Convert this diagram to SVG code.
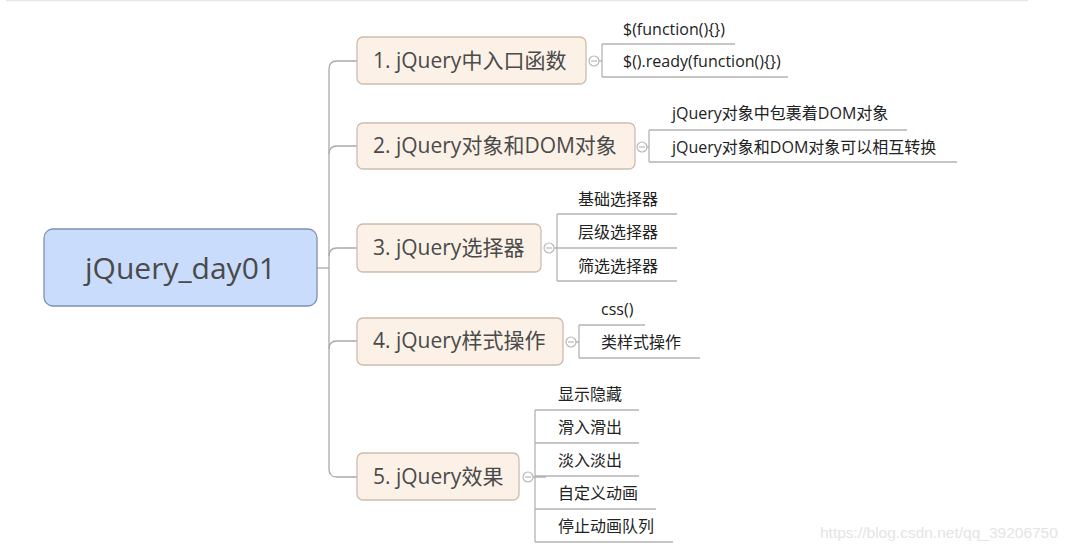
<svg xmlns="http://www.w3.org/2000/svg" width="1073" height="550" viewBox="0 0 1073 550">
<style>
.topic{fill:#fcf1e7;stroke:#cdbcac;stroke-width:1.3}
.root{fill:#c9dcfb;stroke:#7d90b2;stroke-width:1.3}
.tt{font-family:"Open Sans","Noto Sans CJK SC",sans-serif;font-size:21px;fill:#4a4a4a}
.rt{font-family:"Open Sans","Noto Sans CJK SC",sans-serif;font-size:30px;fill:#4a4a4a}
.st{font-family:"Open Sans","Noto Sans CJK SC",sans-serif;font-size:16px;fill:#222}
.ln{fill:none;stroke:#aaaaaa;stroke-width:1.3}
.sl{fill:none;stroke:#b4b4b4;stroke-width:1.3}
.cc{fill:#fff;stroke:#b8b8b8;stroke-width:1.2}
.cm{stroke:#a0a8c0;stroke-width:1}
</style>
<rect width="1073" height="550" fill="#fff"/>
<line x1="6" y1="0.5" x2="1028" y2="0.5" stroke="#e6e6e6" stroke-width="1.5"/>
<g id="connectors">
<path class="ln" d="M317,268 H329"/>
<path class="ln" d="M329,69 V469"/>
<path class="ln" d="M329,69 Q329,61 337,61 H357"/>
<path class="ln" d="M329,154 Q329,146 337,146 H357"/>
<path class="ln" d="M329,256 Q329,248 337,248 H357"/>
<path class="ln" d="M329,349 Q329,341 337,341 H357"/>
<path class="ln" d="M329,469 Q329,477 337,477 H357"/>
<path class="sl" d="M599,61 H602 M602,44 V77 M602,44 H735 M602,77 H788"/>
<path class="sl" d="M647,147 H649 M649,130 V162 M649,130 H907 M649,162 H957"/>
<path class="sl" d="M554,248 H677 M557,214 V281 M557,214 H677 M557,281 H677"/>
<path class="sl" d="M576,342 H579 M579,325 V358 M579,325 H645 M579,358 H700"/>
<path class="sl" d="M533,477 H546 M535,410 V542 M535,410 H639 M535,443 H639 M535,476 H639 M535,509 H656 M535,542 H673"/>
</g>
<g id="root">
<rect class="root" x="44" y="229" width="273" height="77" rx="9"/>
<text class="rt" x="180.5" y="279" text-anchor="middle">jQuery_day01</text>
</g>
<g id="t1">
<rect class="topic" x="357" y="37" width="229" height="47" rx="6"/>
<text class="tt" x="373" y="68">1. jQuery中入口函数</text>
<circle class="cc" cx="594" cy="61" r="5"/><line class="cm" x1="591" y1="61" x2="597" y2="61"/>
</g>
<g id="t1c1"><text class="st" x="623" y="35">$(function(){})</text></g>
<g id="t1c2"><text class="st" x="623" y="67">$().ready(function(){})</text></g>
<g id="t2">
<rect class="topic" x="357" y="123" width="278" height="46" rx="6"/>
<text class="tt" x="373" y="153">2. jQuery对象和DOM对象</text>
<circle class="cc" cx="642" cy="147" r="5"/><line class="cm" x1="639" y1="147" x2="645" y2="147"/>
</g>
<g id="t2c1"><text class="st" x="672" y="119">jQuery对象中包裹着DOM对象</text></g>
<g id="t2c2"><text class="st" x="672" y="153">jQuery对象和DOM对象可以相互转换</text></g>
<g id="t3">
<rect class="topic" x="357" y="224" width="184" height="48" rx="6"/>
<text class="tt" x="373" y="255">3. jQuery选择器</text>
<circle class="cc" cx="549" cy="248" r="5"/><line class="cm" x1="546" y1="248" x2="552" y2="248"/>
</g>
<g id="t3c1"><text class="st" x="578" y="205">基础选择器</text></g>
<g id="t3c2"><text class="st" x="578" y="238">层级选择器</text></g>
<g id="t3c3"><text class="st" x="578" y="272">筛选选择器</text></g>
<g id="t4">
<rect class="topic" x="357" y="318" width="206" height="47" rx="6"/>
<text class="tt" x="373" y="348">4. jQuery样式操作</text>
<circle class="cc" cx="571" cy="342" r="5"/><line class="cm" x1="568" y1="342" x2="574" y2="342"/>
</g>
<g id="t4c1"><text class="st" x="601" y="315">css()</text></g>
<g id="t4c2"><text class="st" x="601" y="348">类样式操作</text></g>
<g id="t5">
<rect class="topic" x="357" y="453" width="162" height="47" rx="6"/>
<text class="tt" x="373" y="484">5. jQuery效果</text>
<circle class="cc" cx="528" cy="477" r="5"/><line class="cm" x1="525" y1="477" x2="531" y2="477"/>
</g>
<g id="t5c1"><text class="st" x="558" y="400">显示隐藏</text></g>
<g id="t5c2"><text class="st" x="558" y="433">滑入滑出</text></g>
<g id="t5c3"><text class="st" x="558" y="466">淡入淡出</text></g>
<g id="t5c4"><text class="st" x="558" y="499">自定义动画</text></g>
<g id="t5c5"><text class="st" x="558" y="532">停止动画队列</text></g>
<text x="820" y="538" font-family="Liberation Sans, sans-serif" font-size="15.5" fill="#e4e4e4">https://blog.csdn.net/qq_39206750</text>
</svg>
